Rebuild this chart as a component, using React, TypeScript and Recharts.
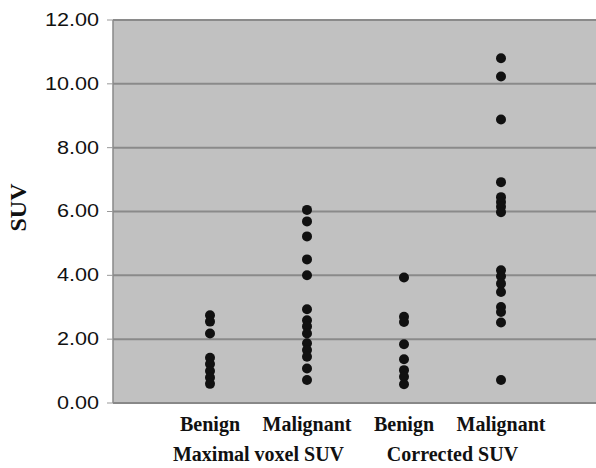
import { CartesianGrid, Scatter, ScatterChart, XAxis, YAxis } from "recharts";

// category positions on the x axis (1..4), group labels sit between pairs
const categories = ["Benign", "Malignant", "Benign", "Malignant"];
const groups = ["Maximal voxel SUV", "Corrected SUV"];
const yTicks = [0, 2, 4, 6, 8, 10, 12];

const benignMaximal = [2.75, 2.55, 2.18, 1.42, 1.22, 1.0, 0.8, 0.6];
const malignantMaximal = [6.05, 5.69, 5.22, 4.5, 4.0, 2.94, 2.59, 2.4, 2.18, 1.87, 1.66, 1.45, 1.08, 0.72];
const benignCorrected = [3.93, 2.7, 2.54, 1.84, 1.37, 1.03, 0.82, 0.59];
const malignantCorrected = [10.8, 10.23, 8.88, 6.92, 6.45, 6.3, 6.15, 5.98, 4.16, 3.97, 3.74, 3.48, 3.01, 2.85, 2.52, 0.72];

const series = [benignMaximal, malignantMaximal, benignCorrected, malignantCorrected];

const W = 596;
const H = 468;

function YTick({ x, y, payload }: any) {
  return (
    <text
      x={x}
      y={y}
      dy={6}
      textAnchor="end"
      fontFamily="'Liberation Sans', Arial, sans-serif"
      fontSize={18}
      fill="#111"
      transform={`translate(${x},0) scale(1.2,1) translate(${-x},0)`}
    >
      {payload.value.toFixed(2)}
    </text>
  );
}

function XTick({ x, y, payload }: any) {
  const v = payload.value;
  const isGroup = !Number.isInteger(v);
  const label = isGroup ? groups[Math.floor(v) === 1 ? 0 : 1] : categories[v - 1];
  return (
    <text
      x={x}
      y={y}
      dy={isGroup ? 58 : 28}
      textAnchor="middle"
      fontFamily="'Liberation Serif', 'Times New Roman', serif"
      fontWeight="bold"
      fontSize={20}
      fill="#111"
    >
      {label}
    </text>
  );
}

export default function App() {
  return (
    <div style={{ position: "absolute", left: 0, top: 0, width: W, height: H, background: "#fff" }}>
      <ScatterChart width={W} height={H} margin={{ top: 20, right: -2, bottom: 0, left: 0 }}>
        <CartesianGrid vertical={false} fill="#c1c1c1" stroke="#8a8a8a" strokeWidth={2} />
        <XAxis
          type="number"
          dataKey="x"
          domain={[0, 5]}
          ticks={[1, 1.5, 2, 3, 3.5, 4]}
          interval={0}
          tick={<XTick />}
          tickLine={false}
          tickSize={0}
          tickMargin={0}
          height={65}
          axisLine={{ stroke: "#888", strokeWidth: 2 }}
        />
        <YAxis
          type="number"
          dataKey="y"
          domain={[0, 12]}
          ticks={yTicks}
          interval={0}
          width={113}
          tick={<YTick />}
          tickSize={6}
          tickMargin={8}
          tickLine={{ stroke: "#999" }}
          axisLine={{ stroke: "#888", strokeWidth: 1.5 }}
          label={{
            value: "SUV",
            angle: -90,
            position: "insideLeft",
            offset: 17,
            dy: -4,
            style: {
              fontFamily: "'Liberation Serif', 'Times New Roman', serif",
              fontWeight: "bold",
              fontSize: 24,
              fill: "#111",
              textAnchor: "middle",
            },
          }}
        />
        {series.map((vals, i) => (
          <Scatter
            key={i}
            data={vals.map((v) => ({ x: i + 1, y: v }))}
            fill="#111"
            shape={(p: any) => <circle cx={p.cx} cy={p.cy} r={5} fill="#111" />}
            isAnimationActive={false}
          />
        ))}
      </ScatterChart>
    </div>
  );
}
